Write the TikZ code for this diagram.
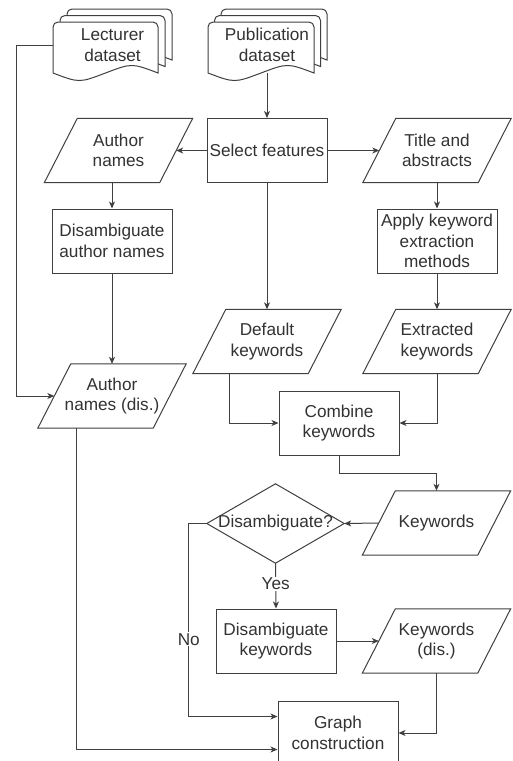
\documentclass[tikz,border=0pt]{standalone}
\usepackage{fontspec}
\setmainfont{Liberation Sans}
\usetikzlibrary{arrows.meta}
\definecolor{ink}{HTML}{333333}
\definecolor{edge}{HTML}{404040}

% one sheet of a stacked-document symbol: x, y (top left), width, height to the wave
\newcommand{\docpage}[4]{%
  \path[outline,fill=white] (#1,#2+#4) [rounded corners=5pt] -- (#1,#2) -- (#1+#3,#2) [sharp corners] -- (#1+#3,#2+#4)
    .. controls (#1+0.75*#3,#2+#4-10) .. (#1+0.5*#3,#2+#4)
    .. controls (#1+0.25*#3,#2+#4+10) .. (#1,#2+#4) -- cycle;}

% data (parallelogram) symbol: name, x, y, text
\newcommand{\iobox}[4]{%
  \node[iotext] (#1) at (#2,#3) {#4};
  \draw[outline] ([xshift=-16.5pt]#1.south west) -- ([xshift=16.5pt]#1.north west)
    -- ([xshift=16.5pt]#1.north east) -- ([xshift=-16.5pt]#1.south east) -- cycle;}

\begin{document}
\begin{tikzpicture}[x=1pt,y=-1pt,
  font=\fontsize{17.2}{20.5}\selectfont,
  every node/.style={text=ink},
  box/.style={draw=edge,line width=1pt,minimum width=120,minimum height=64,inner sep=0pt,align=center},
  iotext/.style={minimum width=115,minimum height=64,inner sep=0pt,align=center},
  outline/.style={draw=edge,line width=1pt,line join=miter},
  arr/.style={draw=edge,line width=1pt,-{Stealth[length=7pt,width=6pt,inset=2pt]}},
  lbl/.style={fill=white,inner sep=1pt}
]
\useasboundingbox (0,0) rectangle (513,761);
\fill[white] (0,0) rectangle (513,761);

% input datasets
\docpage{67}{9}{105}{51}
\docpage{60}{15.5}{105}{51}
\docpage{53}{22}{105}{51}
\node[iotext,minimum width=119,minimum height=56] (lect) at (112.5,45) {Lecturer\\dataset};

\docpage{221}{9}{106}{51}
\docpage{214.5}{15.5}{106}{51}
\docpage{208}{22}{106}{51}
\node[iotext,minimum width=119,minimum height=56] (pub) at (267,45) {Publication\\dataset};

% process steps and data
\node[box] (sel) at (267,150.5) {Select features};
\iobox{auth}{118.5}{150.5}{Author\\names}
\iobox{tit}{437}{150.5}{Title and\\abstracts}
\node[box] (disA) at (112,241) {Disambiguate\\author names};
\node[box] (app) at (437,241) {Apply keyword\\extraction\\methods};
\iobox{def}{267}{341.5}{Default\\keywords}
\iobox{ext}{437}{341.5}{Extracted\\keywords}
\iobox{authd}{112}{396}{Author\\names (dis.)}
\node[box] (comb) at (339,423) {Combine\\keywords};
\iobox{kw}{436.5}{523}{Keywords}
\node[minimum width=137,minimum height=79,inner sep=0pt] (dec) at (275.5,523.5) {Disambiguate?};
\draw[outline] (dec.west) -- (dec.north) -- (dec.east) -- (dec.south) -- cycle;
\node[box] (disK) at (276,641) {Disambiguate\\keywords};
\iobox{kwd}{436.5}{641}{Keywords\\(dis.)}
\node[box] (graph) at (338,733) {Graph\\construction};

% flow
\draw[arr] (pub.south) -- (sel.north);
\draw[arr] (sel.west) -- (auth.east);
\draw[arr] (sel.east) -- (tit.west);
\draw[arr] (auth.south -| disA.north) -- (disA.north);
\draw[arr] (disA.south) -- (authd.north);
\draw[arr] (lect.west) -- ++(-36,0) |- (authd.west);
\draw[arr] (sel.south) -- (def.north);
\draw[arr] (tit.south) -- (app.north);
\draw[arr] (app.south) -- (ext.north);
\draw[arr] ([xshift=-38pt]def.south) |- (comb.west);
\draw[arr] (ext.south) |- (comb.east);
\draw[arr] (comb.south) -- ++(0,18) -| (kw.north);
\draw[arr] (kw.west) -- (dec.east);
\draw[arr] (dec.south) -- node[lbl,pos=0.45]{Yes} (disK.north);
\draw[arr] (disK.east) -- (kwd.west);
\draw[arr] (kwd.south) |- (graph.east);
\draw[arr] (dec.west) -- ++(-18,0) |- node[lbl,pos=0.3]{No} ([yshift=16.5pt]graph.west);
\draw[arr] ([xshift=-36pt]authd.south) |- ([yshift=-16.5pt]graph.west);
\end{tikzpicture}
\end{document}
